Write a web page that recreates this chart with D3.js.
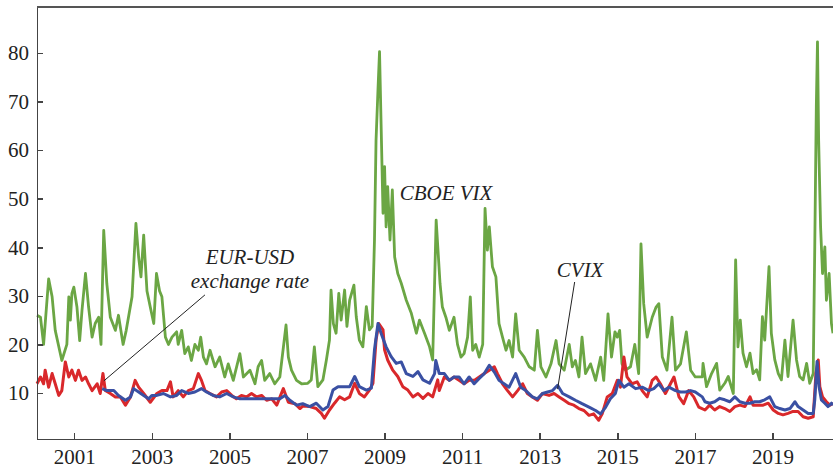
<!DOCTYPE html>
<html lang="en">
<head>
<meta charset="UTF-8">
<title>VIX, CVIX and EUR-USD volatility</title>
<style>
    body { margin: 0; background: #ffffff; }
    svg { display: block; }
    .axis text { font-family: "Liberation Serif", "Times New Roman", serif; font-size: 21px; fill: #222; }
    .axis path, .axis line { stroke: #444; stroke-width: 1.5px; shape-rendering: crispEdges; }
    .note { font-family: "Liberation Serif", "Times New Roman", serif; font-style: italic; font-size: 21px; fill: #222; }
</style>
</head>
<body>
<script src="https://d3js.org/d3.v7.min.js"></script>
<script>
    // tick labels
    var xTickYears = [2001, 2003, 2005, 2007, 2009, 2011, 2013, 2015, 2017, 2019];
    var yTickValues = [10, 20, 30, 40, 50, 60, 70, 80];

    // CBOE VIX (green)
    var vixYears = [2000.04, 2000.13, 2000.21, 2000.34, 2000.43, 2000.51, 2000.68, 2000.81, 2000.86, 2000.90, 2000.94, 2000.99,
        2001.07, 2001.14, 2001.20, 2001.29, 2001.37, 2001.46, 2001.54, 2001.63, 2001.69, 2001.76, 2001.84, 2001.93,
        2002.06, 2002.14, 2002.26, 2002.34, 2002.49, 2002.59, 2002.66, 2002.72, 2002.79, 2002.875, 2002.96,
        2003.05, 2003.12, 2003.20, 2003.26, 2003.35, 2003.43, 2003.52, 2003.64, 2003.68, 2003.77, 2003.85, 2003.94,
        2004.02, 2004.11, 2004.20, 2004.26, 2004.33, 2004.41, 2004.50, 2004.63, 2004.75, 2004.88, 2004.97,
        2005.10, 2005.27, 2005.36, 2005.53, 2005.66, 2005.74, 2005.83, 2005.91, 2006.04, 2006.17, 2006.30,
        2006.46, 2006.52, 2006.60, 2006.73, 2006.86, 2007.02, 2007.11, 2007.19, 2007.28, 2007.41, 2007.50,
        2007.58, 2007.62, 2007.68, 2007.75, 2007.82, 2007.88, 2007.97, 2008.03, 2008.10, 2008.21, 2008.27,
        2008.35, 2008.44, 2008.53, 2008.61, 2008.68, 2008.74, 2008.78, 2008.83, 2008.87, 2008.91, 2008.96,
        2009.00, 2009.04, 2009.08, 2009.14, 2009.20, 2009.26, 2009.34, 2009.43, 2009.56, 2009.69, 2009.82,
        2009.90, 2010.03, 2010.16, 2010.24, 2010.33, 2010.43, 2010.49, 2010.58, 2010.67, 2010.79, 2010.88,
        2010.97, 2011.05, 2011.14, 2011.21, 2011.27, 2011.35, 2011.44, 2011.53, 2011.59, 2011.65, 2011.70,
        2011.78, 2011.87, 2011.95, 2012.04, 2012.13, 2012.21, 2012.30, 2012.38, 2012.47, 2012.60, 2012.73,
        2012.86, 2012.94, 2013.03, 2013.16, 2013.29, 2013.42, 2013.50, 2013.63, 2013.76, 2013.84, 2013.92,
        2014.01, 2014.09, 2014.18, 2014.31, 2014.44, 2014.57, 2014.65, 2014.76, 2014.85, 2014.94, 2015.00,
        2015.06, 2015.12, 2015.21, 2015.34, 2015.45, 2015.55, 2015.61, 2015.68, 2015.77, 2015.90, 2016.00,
        2016.07, 2016.16, 2016.28, 2016.41, 2016.50, 2016.63, 2016.78, 2016.89, 2017.01, 2017.19, 2017.21,
        2017.30, 2017.43, 2017.56, 2017.64, 2017.77, 2017.86, 2017.99, 2018.05, 2018.11, 2018.17, 2018.24,
        2018.33, 2018.42, 2018.50, 2018.59, 2018.67, 2018.74, 2018.80, 2018.91, 2018.97, 2019.06, 2019.15,
        2019.23, 2019.32, 2019.40, 2019.53, 2019.62, 2019.70, 2019.79, 2019.88, 2019.96, 2020.05, 2020.09,
        2020.13, 2020.16, 2020.19, 2020.24, 2020.29, 2020.35, 2020.39, 2020.46, 2020.52, 2020.56];
    var vixValues = [26, 25.6, 20, 33.5, 29.8, 22.9, 16.7, 20, 29.8, 25, 30.5, 31.8,
        27.7, 20.8, 27, 34.6, 27.7, 21.5, 24.3, 25.6, 20, 43.5, 32.5, 25.6,
        22.9, 26, 20, 22.9, 29.8, 44.9, 38, 33.9, 42.5, 31, 27.7,
        24.3, 34.6, 31, 29.8, 21.5, 20, 21.5, 22.6, 20, 22.9, 18.1, 19.5,
        16.7, 20, 18.8, 21.5, 17.4, 16, 18.8, 15.4, 17.4, 13.3, 16,
        12.6, 18.1, 13.3, 14.7, 11.9, 15.4, 16.7, 12.6, 14, 11.9, 13.3,
        24, 17.4, 14.7, 12.6, 11.9, 12, 12.7, 19.5, 11.3, 12.7, 16.8,
        20.9, 31.2, 24.3, 22.3, 30.5, 25, 31.2, 23.7, 29.1, 32.2, 25.7,
        20.9, 19.5, 27.8, 23, 23.7, 41.5, 62, 72.4, 80.3, 65.5, 47,
        56.6, 44.2, 52.5, 41.5, 51.8, 38, 34.6, 32.6, 29.1, 26.4, 22.3,
        25, 22.3, 19.5, 16.8, 45.6, 32.5, 27.7, 25.6, 22.9, 25.6, 20,
        17.4, 18.1, 21.5, 29.8, 18.8, 20, 17.4, 20, 48, 39.4, 44.2,
        36, 33.9, 24.3, 21.5, 18.8, 20.8, 17.4, 26.3, 18.8, 17.4, 15.4,
        14.7, 22.9, 15.4, 13.3, 16, 20.8, 16, 14.7, 20, 15.4, 16.7,
        13.3, 21.5, 14, 16, 12.6, 17.4, 12.6, 26.3, 17.4, 22.6, 21.5,
        22.9, 16, 14.7, 15.4, 20, 14, 40.7, 28.4, 21.5, 25.6, 27.7,
        28.4, 17.4, 14.7, 25.6, 14.7, 16, 22.6, 14.7, 13.3, 13.3, 16.1,
        11.3, 14, 16.1, 10.6, 12, 13.4, 9.9, 37.4, 19.5, 25, 18.2,
        15.4, 18.2, 14, 14.8, 12.7, 25.7, 20.9, 36, 22.3, 16.8, 14,
        12.7, 20.9, 13.4, 25, 16.8, 13.4, 12.7, 16.1, 12, 14, 40.1,
        69, 82.3, 62, 44.2, 34.6, 40.1, 29.1, 34.6, 24.3, 22.3];

    // EUR-USD exchange rate implied volatility (red)
    var eurYears = [2000.04, 2000.13, 2000.21, 2000.25, 2000.34, 2000.43, 2000.51, 2000.60, 2000.68, 2000.77, 2000.86, 2000.94,
        2001.03, 2001.11, 2001.20, 2001.29, 2001.37, 2001.46, 2001.59, 2001.67, 2001.74, 2001.80, 2001.93,
        2002.06, 2002.19, 2002.32, 2002.45, 2002.57, 2002.66, 2002.79, 2002.96, 2003.13, 2003.26, 2003.39, 2003.48,
        2003.55, 2003.68, 2003.81, 2003.94, 2004.07, 2004.20, 2004.28, 2004.37, 2004.50, 2004.67, 2004.80, 2004.93,
        2005.06, 2005.18, 2005.31, 2005.44, 2005.57, 2005.70, 2005.83, 2005.96, 2006.09, 2006.22, 2006.39, 2006.52,
        2006.69, 2006.82, 2006.89, 2007.07, 2007.24, 2007.37, 2007.45, 2007.58, 2007.71, 2007.84, 2007.97,
        2008.10, 2008.23, 2008.35, 2008.48, 2008.61, 2008.70, 2008.78, 2008.85, 2008.96, 2009.00, 2009.08,
        2009.21, 2009.34, 2009.47, 2009.60, 2009.73, 2009.86, 2009.99, 2010.12, 2010.24, 2010.37, 2010.41,
        2010.54, 2010.67, 2010.79, 2010.92, 2011.05, 2011.18, 2011.31, 2011.44, 2011.57, 2011.70, 2011.83,
        2011.91, 2012.04, 2012.17, 2012.30, 2012.43, 2012.56, 2012.68, 2012.81, 2012.94, 2013.07, 2013.24,
        2013.37, 2013.50, 2013.63, 2013.76, 2013.88, 2014.01, 2014.14, 2014.27, 2014.39, 2014.52, 2014.61,
        2014.74, 2014.87, 2015.00, 2015.08, 2015.17, 2015.25, 2015.38, 2015.51, 2015.64, 2015.77, 2015.90,
        2016.00, 2016.11, 2016.24, 2016.37, 2016.46, 2016.59, 2016.71, 2016.84, 2016.97, 2017.10, 2017.26,
        2017.38, 2017.51, 2017.64, 2017.77, 2017.90, 2018.03, 2018.16, 2018.29, 2018.42, 2018.50, 2018.63,
        2018.76, 2018.89, 2019.02, 2019.15, 2019.27, 2019.40, 2019.53, 2019.66, 2019.79, 2019.92, 2020.05,
        2020.12, 2020.18, 2020.22, 2020.29, 2020.39, 2020.48, 2020.56];
    var eurValues = [11.9, 13.3, 11.9, 14.7, 11.2, 14, 11.9, 9.5, 10.5, 16.4, 13.3, 14.7,
        12.6, 14.7, 12.6, 13.3, 11.9, 10.5, 11.9, 9.9, 14, 10.5, 9.9,
        9.2, 9.2, 7.5, 9.2, 12.6, 11.2, 9.9, 8.1, 9.9, 10.5, 10.5, 12.3,
        9.2, 10.5, 9.2, 10.5, 10.9, 14, 12.6, 10.5, 9.9, 9.2, 10.2, 10.5,
        9.5, 8.8, 9.5, 9.2, 9.9, 9.2, 9.5, 8.5, 8.8, 7.5, 10.9, 8.1,
        7.8, 6.8, 7.3, 7.2, 6.8, 5.8, 4.8, 6.5, 7.9, 9.2, 8.6,
        9.2, 12, 9.9, 9.2, 10.6, 12, 20.9, 24.3, 23, 18.9, 16.8,
        14.7, 13.4, 11.3, 10.6, 9.2, 9.9, 8.9, 9.9, 9.2, 12.7, 10.5,
        13.3, 12.6, 13.3, 12.6, 11.9, 12.6, 12.6, 13.3, 14, 14.7, 15.4,
        14, 11.9, 10.5, 9.2, 10.5, 11.9, 9.9, 9.2, 8.5, 9.9, 9.5,
        9.9, 9.2, 8.5, 7.8, 7.5, 6.8, 6.4, 5.4, 5.7, 4.4, 5.7,
        9.2, 9.9, 12.6, 11.2, 17.4, 13.3, 11.9, 12.3, 10.5, 9.2, 12.6,
        13.3, 11.9, 9.9, 11.9, 13.3, 9.2, 7.8, 10.5, 9.2, 7.1, 6.5,
        7.5, 6.5, 7.2, 6.8, 6.2, 7.2, 7.5, 7.2, 9.2, 7.5, 7.5,
        7.5, 7.9, 6.5, 5.8, 5.5, 5.8, 6.2, 6.2, 5.1, 4.8, 5.1,
        14, 16.8, 11.3, 9.2, 8.2, 7.5, 7.9];

    // CVIX currency volatility index (blue)
    var cvixYears = [2001.72, 2001.84, 2002.02, 2002.14, 2002.32, 2002.45, 2002.53, 2002.66, 2002.79, 2002.92, 2003.00,
        2003.13, 2003.30, 2003.48, 2003.64, 2003.77, 2003.94, 2004.11, 2004.28, 2004.41, 2004.58, 2004.75, 2004.93,
        2005.10, 2005.27, 2005.44, 2005.61, 2005.79, 2005.96, 2006.13, 2006.30, 2006.43, 2006.56, 2006.73, 2006.89,
        2007.07, 2007.24, 2007.41, 2007.54, 2007.67, 2007.80, 2007.93, 2008.10, 2008.23, 2008.35, 2008.53, 2008.66,
        2008.74, 2008.83, 2008.91, 2009.04, 2009.17, 2009.30, 2009.43, 2009.56, 2009.73, 2009.86, 2009.99, 2010.16,
        2010.29, 2010.32, 2010.41, 2010.54, 2010.67, 2010.79, 2010.92, 2011.05, 2011.18, 2011.31, 2011.44, 2011.57,
        2011.70, 2011.83, 2011.95, 2012.08, 2012.21, 2012.38, 2012.51, 2012.64, 2012.81, 2012.94, 2013.07, 2013.20,
        2013.33, 2013.46, 2013.59, 2013.76, 2013.92, 2014.09, 2014.27, 2014.44, 2014.57, 2014.70, 2014.82, 2014.95,
        2015.04, 2015.17, 2015.30, 2015.47, 2015.64, 2015.81, 2015.94, 2016.07, 2016.20, 2016.33, 2016.50, 2016.63,
        2016.76, 2016.89, 2017.01, 2017.19, 2017.26, 2017.38, 2017.51, 2017.64, 2017.77, 2017.90, 2018.03, 2018.16,
        2018.29, 2018.42, 2018.54, 2018.67, 2018.80, 2018.93, 2019.06, 2019.19, 2019.32, 2019.45, 2019.58, 2019.66,
        2019.79, 2019.92, 2020.05, 2020.09, 2020.15, 2020.20, 2020.26, 2020.35, 2020.43, 2020.52, 2020.56];
    var cvixValues = [10.9, 10.5, 10.5, 9.5, 8.5, 9.2, 10.9, 10.2, 9.5, 8.8, 9.5,
        9.5, 9.9, 9.2, 9.5, 10.5, 9.9, 10.2, 10.9, 10.2, 9.5, 9.2, 9.9,
        9.2, 8.8, 8.8, 8.8, 8.8, 8.8, 8.8, 8.8, 9.5, 8.5, 7.5, 7.8,
        7.2, 7.9, 6.5, 7.2, 10.6, 11.3, 11.3, 11.3, 13.4, 11.3, 10.6, 11,
        18.9, 24.3, 22.3, 19.5, 17.5, 16.1, 16.4, 14, 13.4, 14.4, 12.7, 12,
        14, 16.7, 14, 14, 12.6, 13.3, 13.3, 11.9, 13.3, 11.9, 13, 14,
        15.7, 14.3, 12.6, 11.9, 11.2, 14, 11.2, 10.5, 9.2, 8.8, 9.9, 10.2,
        10.5, 11.6, 9.9, 9.2, 8.5, 7.8, 7.1, 6.4, 5.7, 7.1, 8.8, 9.9,
        12.6, 11.2, 11.9, 10.9, 11.2, 10.5, 10.9, 11.9, 10.5, 11.2, 10.5, 10.2,
        10.2, 10.5, 10.2, 9.2, 8.2, 7.9, 8.2, 8.9, 8.6, 8.2, 9.2, 8.2,
        7.9, 7.9, 8.2, 8.2, 8.6, 9.2, 7.2, 6.8, 6.5, 6.8, 8.2, 7.2,
        6.5, 5.8, 5.8, 8.6, 16.5, 11.3, 8.6, 7.9, 7.2, 7.9, 7.5];

    // annotation texts and leader lines, placed in data units
    var noteTexts = [
        {text: "CBOE VIX", year: 2009.39, value: 49.7, anchor: "start"},
        {text: "EUR-USD", year: 2005.53, value: 36.6, anchor: "middle"},
        {text: "exchange rate", year: 2005.53, value: 31.6, anchor: "middle"},
        {text: "CVIX", year: 2013.44, value: 33.9, anchor: "start"}
    ];
    var noteLines = [
        [[2004.37, 30.2], [2001.765, 12.5]],
        [[2013.90, 32.85], [2013.46, 10.8]]
    ];

    var width = 833, height = 468;
    var margin = {top: 7, right: 0, bottom: 29, left: 37};

    var svg = d3.select("body").append("svg")
        .attr("width", width)
        .attr("height", height);

    var x = d3.scaleLinear()
        .domain([2000.04, 2020.56])
        .range([margin.left, width - margin.right]);

    var y = d3.scaleLinear()
        .domain([0.53, 89.47])
        .range([height - margin.bottom, margin.top]);

    function series(years, values) {
        return years.map(function(t, i) { return [t, values[i]]; });
    }

    var line = d3.line()
        .x(function(d) { return x(d[0]); })
        .y(function(d) { return y(d[1]); });

    var g = svg.append("g");

    g.append("path")
        .datum(series(vixYears, vixValues))
        .attr("fill", "none")
        .attr("stroke", "#6ba644")
        .attr("stroke-width", 2.8)
        .attr("stroke-linejoin", "round")
        .attr("d", line);

    g.append("path")
        .datum(series(eurYears, eurValues))
        .attr("fill", "none")
        .attr("stroke", "#d9282b")
        .attr("stroke-width", 3)
        .attr("stroke-linejoin", "round")
        .attr("d", line);

    g.append("path")
        .datum(series(cvixYears, cvixValues))
        .attr("fill", "none")
        .attr("stroke", "#3a50a3")
        .attr("stroke-width", 3)
        .attr("stroke-linejoin", "round")
        .attr("d", line);

    // axes, ticks point inward
    svg.append("g")
        .attr("class", "axis")
        .attr("transform", "translate(0," + (height - margin.bottom) + ")")
        .call(d3.axisBottom(x)
            .tickValues(xTickYears)
            .tickFormat(d3.format("d"))
            .tickSizeInner(-6)
            .tickSizeOuter(0)
            .tickPadding(10));

    svg.append("g")
        .attr("class", "axis")
        .attr("transform", "translate(" + margin.left + ",0)")
        .call(d3.axisLeft(y)
            .tickValues(yTickValues)
            .tickSizeInner(-6)
            .tickSizeOuter(0)
            .tickPadding(8));

    svg.selectAll(".axis .domain").attr("stroke", "#444");

    // top frame line
    svg.append("line")
        .attr("x1", margin.left)
        .attr("x2", width)
        .attr("y1", margin.top)
        .attr("y2", margin.top)
        .attr("stroke", "#555")
        .attr("stroke-width", 2);

    // leader lines
    svg.selectAll(".leader")
        .data(noteLines)
        .enter().append("line")
        .attr("class", "leader")
        .attr("x1", function(d) { return x(d[0][0]); })
        .attr("y1", function(d) { return y(d[0][1]); })
        .attr("x2", function(d) { return x(d[1][0]); })
        .attr("y2", function(d) { return y(d[1][1]); })
        .attr("stroke", "#222")
        .attr("stroke-width", 1);

    svg.selectAll(".note")
        .data(noteTexts)
        .enter().append("text")
        .attr("class", "note")
        .attr("x", function(d) { return x(d.year); })
        .attr("y", function(d) { return y(d.value); })
        .attr("text-anchor", function(d) { return d.anchor; })
        .text(function(d) { return d.text; });
</script>
</body>
</html>
